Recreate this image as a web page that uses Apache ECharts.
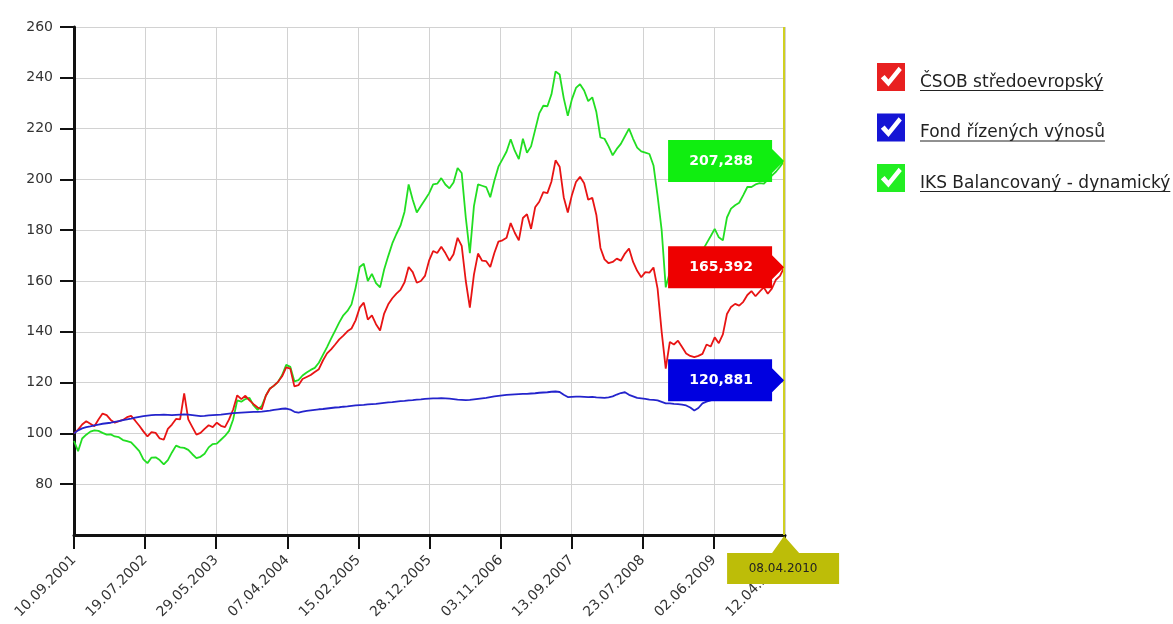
<!DOCTYPE html>
<html>
<head>
<meta charset="utf-8">
<script src="https://cdn.jsdelivr.net/npm/echarts@6/dist/echarts.min.js"></script>
<style>
  html, body { margin: 0; padding: 0; background: #ffffff; }
  #chart { width: 1173px; height: 624px; }
</style>
</head>
<body>
<div id="chart"></div>
<script>
// Fund values sampled every 18 days from the start date
const startDate = '10.09.2001';
const stepDays = 18;

const tickLabels = ['10.09.2001', '19.07.2002', '29.05.2003', '07.04.2004', '15.02.2005',
  '28.12.2005', '03.11.2006', '13.09.2007', '23.07.2008', '02.06.2009', '12.04.2010'];

const yTicks = [80, 100, 120, 140, 160, 180, 200, 220, 240, 260];

const seriesNames = ['ČSOB středoevropský', 'Fond řízených výnosů', 'IKS Balancovaný - dynamický'];

const csob = [
  100, 101.5, 103.5, 104.8, 103.8, 102.8, 105.5, 107.8, 107.2, 105.3,
  104.2, 104.8, 105.3, 106.4, 106.9, 105.0, 103.0, 100.8, 98.8, 100.5,
  100.2, 98.0, 97.5, 101.8, 103.5, 105.7, 105.5, 115.8, 105.5, 102.5,
  99.5, 100.2, 101.8, 103.2, 102.5, 104.2, 103.0, 102.5, 105.5, 109.4,
  115.0, 113.5, 114.8, 113.0, 111.5, 110.2, 109.5, 114.8, 117.6, 118.8,
  120.3, 122.5, 126.0, 125.5, 118.5, 119.0, 121.4, 122.2, 123.0, 124.2,
  125.3, 128.7, 131.5, 133.1, 135.0, 137.0, 138.5, 140.2, 141.3, 144.5,
  149.5, 151.5, 144.8, 146.5, 143.0, 140.5, 147.2, 150.8, 153.2, 155.0,
  156.5, 159.5, 165.5, 163.5, 159.3, 160.0, 162.0, 168.0, 171.8, 171.0,
  173.5, 171.0, 168.0, 170.5, 177.0, 173.8, 160.0, 149.5, 162.5, 170.8,
  168.0, 167.8, 165.5, 171.0, 175.5, 176.0, 177.0, 182.8, 179.0, 176.0,
  184.8, 186.3, 180.5, 189.0, 191.2, 195.0, 194.6, 199.2, 207.5, 205.0,
  193.0, 187.0, 193.8, 199.0, 201.0, 198.5, 192.0, 192.8, 186.0, 173.0,
  168.5, 167.0, 167.5, 168.8, 168.0, 170.8, 172.8, 167.5, 164.0, 161.5,
  163.5, 163.3, 165.3, 157.0, 140.0, 125.5, 136.0, 135.0, 136.5, 134.0,
  131.5, 130.5, 130.0, 130.5, 131.3, 135.0, 134.2, 137.8, 135.5, 139.0,
  147.0, 149.8, 151.0, 150.3, 151.8, 154.5, 156.0, 154.0, 155.8, 157.5,
  155.0, 157.0, 160.5, 162.0, 165.392
];

const fond = [
  100, 101.2, 102.0, 102.5, 102.8, 103.2, 103.5, 103.8, 104.0, 104.2,
  104.5, 104.8, 105.2, 105.5, 105.8, 106.2, 106.5, 106.8, 107.0, 107.2,
  107.3, 107.3, 107.4, 107.3, 107.2, 107.3, 107.4, 107.5, 107.4, 107.2,
  107.0, 106.8, 106.9, 107.1, 107.2, 107.3, 107.4, 107.6, 107.8, 108.0,
  108.1, 108.2, 108.3, 108.4, 108.5, 108.5, 108.6, 108.8, 109.0, 109.3,
  109.5, 109.7, 109.8, 109.4, 108.5, 108.2, 108.6, 108.9, 109.1, 109.3,
  109.5, 109.6, 109.8, 110.0, 110.2, 110.3, 110.5, 110.6, 110.8, 111.0,
  111.1, 111.2, 111.4, 111.5, 111.6, 111.8, 112.0, 112.2, 112.3, 112.5,
  112.7, 112.8, 113.0, 113.1, 113.3, 113.4, 113.6, 113.7, 113.8, 113.8,
  113.9, 113.8, 113.7, 113.5, 113.3, 113.2, 113.1, 113.2, 113.4, 113.6,
  113.8, 114.0, 114.3, 114.6, 114.8, 115.0, 115.2, 115.3, 115.4, 115.5,
  115.6, 115.6, 115.7, 115.8, 116.0, 116.1, 116.2, 116.4, 116.5, 116.3,
  115.2, 114.3, 114.4, 114.5, 114.5, 114.4, 114.3, 114.4, 114.2, 114.1,
  114.0, 114.2, 114.6, 115.3, 115.9, 116.2, 115.2, 114.6, 114.0, 113.8,
  113.6, 113.3, 113.2, 113.0, 112.4, 111.8, 111.8, 111.6, 111.5, 111.3,
  111.0, 110.2, 109.0, 110.0, 111.8, 112.5, 113.0, 113.6, 114.2, 114.6,
  115.0, 115.5, 116.0, 116.4, 116.8, 117.2, 117.6, 118.0, 118.5, 118.8,
  119.2, 119.7, 120.1, 120.5, 120.881
];

const iks = [
  97, 93, 98.0, 99.5, 100.7, 101.2, 101.0, 100.2, 99.5, 99.6,
  98.8, 98.5, 97.4, 97.0, 96.5, 94.8, 93.0, 89.8, 88.3, 90.5,
  90.6, 89.5, 87.8, 89.5, 92.5, 95.2, 94.5, 94.3, 93.5, 91.8,
  90.3, 90.8, 92.0, 94.5, 95.8, 96.0, 97.5, 99.0, 101.0, 105.5,
  113.0, 112.5, 113.5, 114.0, 111.0, 109.3, 110.8, 114.8, 117.7, 118.8,
  120.3, 123.0, 127.0, 126.2, 120.5, 121.0, 122.8, 124.0, 125.0, 125.8,
  127.8, 130.9, 134.0, 137.3, 140.5, 143.7, 146.5, 148.2, 150.8, 157.3,
  165.5, 166.8, 160.0, 162.8, 159.2, 157.5, 164.5, 169.8, 174.8, 178.5,
  181.8, 187.3, 198.0, 192.0, 187.0, 189.5, 192.0, 194.5, 198.0, 198.3,
  200.5, 198.0, 196.5, 198.8, 204.5, 202.5, 185.0, 171.0, 189.5, 198.0,
  197.5, 197.0, 193.0, 199.5, 205.0, 208.0, 211.0, 215.8, 211.3, 208.0,
  216.0, 210.5, 213.0, 219.5, 226.0, 229.0, 228.8, 233.5, 242.5, 241.3,
  232.0, 225.0, 231.5, 236.0, 237.5, 235.0, 230.8, 232.3, 226.5, 216.5,
  216.0, 213.0, 209.5, 212.0, 214.0, 217.0, 220.0, 216.0, 212.5, 211.0,
  210.5, 210.0, 205.5, 193.5, 180.0, 157.5, 163.5, 167.0, 164.5, 168.5,
  166.0, 163.0, 166.5, 170.0, 172.0, 174.8, 177.6, 180.5, 177.2, 176.0,
  185.0, 188.5, 189.8, 190.8, 193.8, 197.0, 197.0, 198.0, 198.5, 198.3,
  199.8, 201.5, 203.0, 205.0, 207.288
];

const lineColors = ['#e81414', '#2424cc', '#22de22'];
const tagColors = ['#ee0000', '#0000e0', '#10ee10'];
const legendColors = ['#e82020', '#1515d5', '#22ee22'];
const cursorColor = '#d0d020';
const flagColor = '#bdbd08';
const fontFamily = 'DejaVu Sans';
const legendFontSize = 17;

// ---- date helpers (days counted from the start date, UTC) ----
const DAY = 86400000;
function parseDate(s) {
  const [d, m, y] = s.split('.').map(Number);
  return Date.UTC(y, m - 1, d);
}
const t0 = parseDate(startDate);
function dayOffset(s) { return Math.round((parseDate(s) - t0) / DAY); }
function pad(n) { return (n < 10 ? '0' : '') + n; }
function formatDay(day) {
  const dt = new Date(t0 + day * DAY);
  return pad(dt.getUTCDate()) + '.' + pad(dt.getUTCMonth() + 1) + '.' + dt.getUTCFullYear();
}
function formatValue(v) { return v.toFixed(3).replace('.', ','); }

const xMax = dayOffset(tickLabels[tickLabels.length - 1]);
const xInterval = xMax / (tickLabels.length - 1);

function toPairs(values) {
  return values.map((v, i) => [i * stepDays, v]);
}
const lastDay = (csob.length - 1) * stepDays;

// value tag pointing at the last point of a series
const tagPath = 'path://M0,0L104,0L104,9L116,21L104,33L104,42L0,42Z';
function endTag(values, color) {
  const last = values[values.length - 1];
  return {
    silent: true,
    symbol: tagPath,
    symbolSize: [116, 42],
    symbolOffset: [-58, 0],
    itemStyle: { color: color },
    label: {
      show: true,
      position: 'inside',
      offset: [-5, 0],
      color: '#ffffff',
      fontFamily: fontFamily,
      fontWeight: 'bold',
      fontSize: 14,
      formatter: () => formatValue(last)
    },
    data: [{ coord: [lastDay, last], value: last }]
  };
}

// checkbox icon: coloured square with a tick cut out of it
const checkIcon = 'path://M0,0L22,0L22,22L0,22Z M3,12L9,18.5L19.5,5.5L17,3L9,13L6,9.5Z';

const allValues = [csob, fond, iks];
const zOrder = [3, 4, 2];

const chart = echarts.init(document.getElementById('chart'), null, { renderer: 'canvas' });

const option = {
  animation: false,
  backgroundColor: '#ffffff',
  grid: { left: 74, right: 388, top: 27, bottom: 89, containLabel: false },
  legend: {
    orient: 'vertical',
    left: 877,
    top: 63,
    itemWidth: 28,
    itemHeight: 28,
    itemGap: 22.5,
    padding: 0,
    itemStyle: { borderWidth: 0 },
    formatter: name => '{t|' + name + '}',
    textStyle: {
      fontFamily: fontFamily,
      fontSize: legendFontSize,
      color: '#222222',
      rich: {
        t: { fontFamily: fontFamily, fontSize: legendFontSize, color: '#222222', padding: [11, 0, 0, 10] }
      }
    },
    data: seriesNames.map((n, i) => ({ name: n, icon: checkIcon, itemStyle: { color: legendColors[i], borderWidth: 0 } }))
  },
  xAxis: {
    type: 'value',
    min: 0,
    max: xMax,
    interval: xInterval,
    axisLine: { show: true, onZero: false, lineStyle: { color: '#111111', width: 3 } },
    axisTick: { show: true, length: 14, lineStyle: { color: '#111111', width: 2 } },
    axisLabel: {
      rotate: 45,
      margin: 23,
      fontFamily: fontFamily,
      fontSize: 14,
      color: '#333333',
      showMaxLabel: true,
      formatter: v => tickLabels[Math.round(v / xInterval)] || ''
    },
    splitLine: { show: true, lineStyle: { color: '#d2d2d2', width: 1 } }
  },
  yAxis: {
    type: 'value',
    min: 60,
    max: 260,
    interval: 20,
    axisLine: { show: true, lineStyle: { color: '#111111', width: 3 } },
    axisTick: { show: true, length: 14, customValues: yTicks, lineStyle: { color: '#111111', width: 2 } },
    axisLabel: {
      margin: 21,
      fontFamily: fontFamily,
      fontSize: 14,
      color: '#333333',
      customValues: yTicks,
      formatter: v => (v === 60 ? '' : String(v))
    },
    splitLine: { show: true, lineStyle: { color: '#d2d2d2', width: 1 } }
  },
  series: seriesNames.map((name, i) => ({
    name: name,
    type: 'line',
    data: toPairs(allValues[i]),
    symbol: 'none',
    showSymbol: false,
    z: zOrder[i],
    lineStyle: { color: lineColors[i], width: 1.8 },
    itemStyle: { color: lineColors[i] },
    emphasis: { disabled: true },
    markPoint: endTag(allValues[i], tagColors[i]),
    markLine: i === 1 ? {
      silent: true,
      symbol: 'none',
      label: { show: false },
      lineStyle: { color: cursorColor, width: 2, type: 'solid' },
      data: [{ xAxis: lastDay }]
    } : undefined
  }))
};

chart.setOption(option);

// date flag under the cursor line, plus underlined legend labels
function addOverlay() {
  const p = chart.convertToPixel({ xAxisIndex: 0, yAxisIndex: 0 }, [lastDay, 60]);
  const cx = p[0], ay = p[1];
  const top = ay + 18, bottom = top + 31, left = cx - 57, right = cx + 55;
  const elements = [{
    type: 'polygon',
    z: 100,
    shape: { points: [[left, top], [cx - 12, top], [cx, ay + 1], [cx + 15, top], [right, top], [right, bottom], [left, bottom]] },
    style: { fill: flagColor }
  }, {
    type: 'text',
    z: 101,
    x: (left + right) / 2,
    y: (top + bottom) / 2,
    style: { text: formatDay(lastDay), fill: '#222222', font: '12px "DejaVu Sans"', align: 'center', verticalAlign: 'middle' }
  }];

  const ctx = document.createElement('canvas').getContext('2d');
  ctx.font = legendFontSize + 'px "DejaVu Sans"';
  seriesNames.forEach((n, i) => {
    const w = ctx.measureText(n).width;
    const y = 90.5 + i * 50.5;
    elements.push({
      type: 'line',
      z: 100,
      silent: true,
      shape: { x1: 920, y1: y, x2: 920 + w, y2: y },
      style: { stroke: '#222222', lineWidth: 1 }
    });
  });
  chart.setOption({ graphic: { elements: elements } });
}
addOverlay();
</script>
</body>
</html>
